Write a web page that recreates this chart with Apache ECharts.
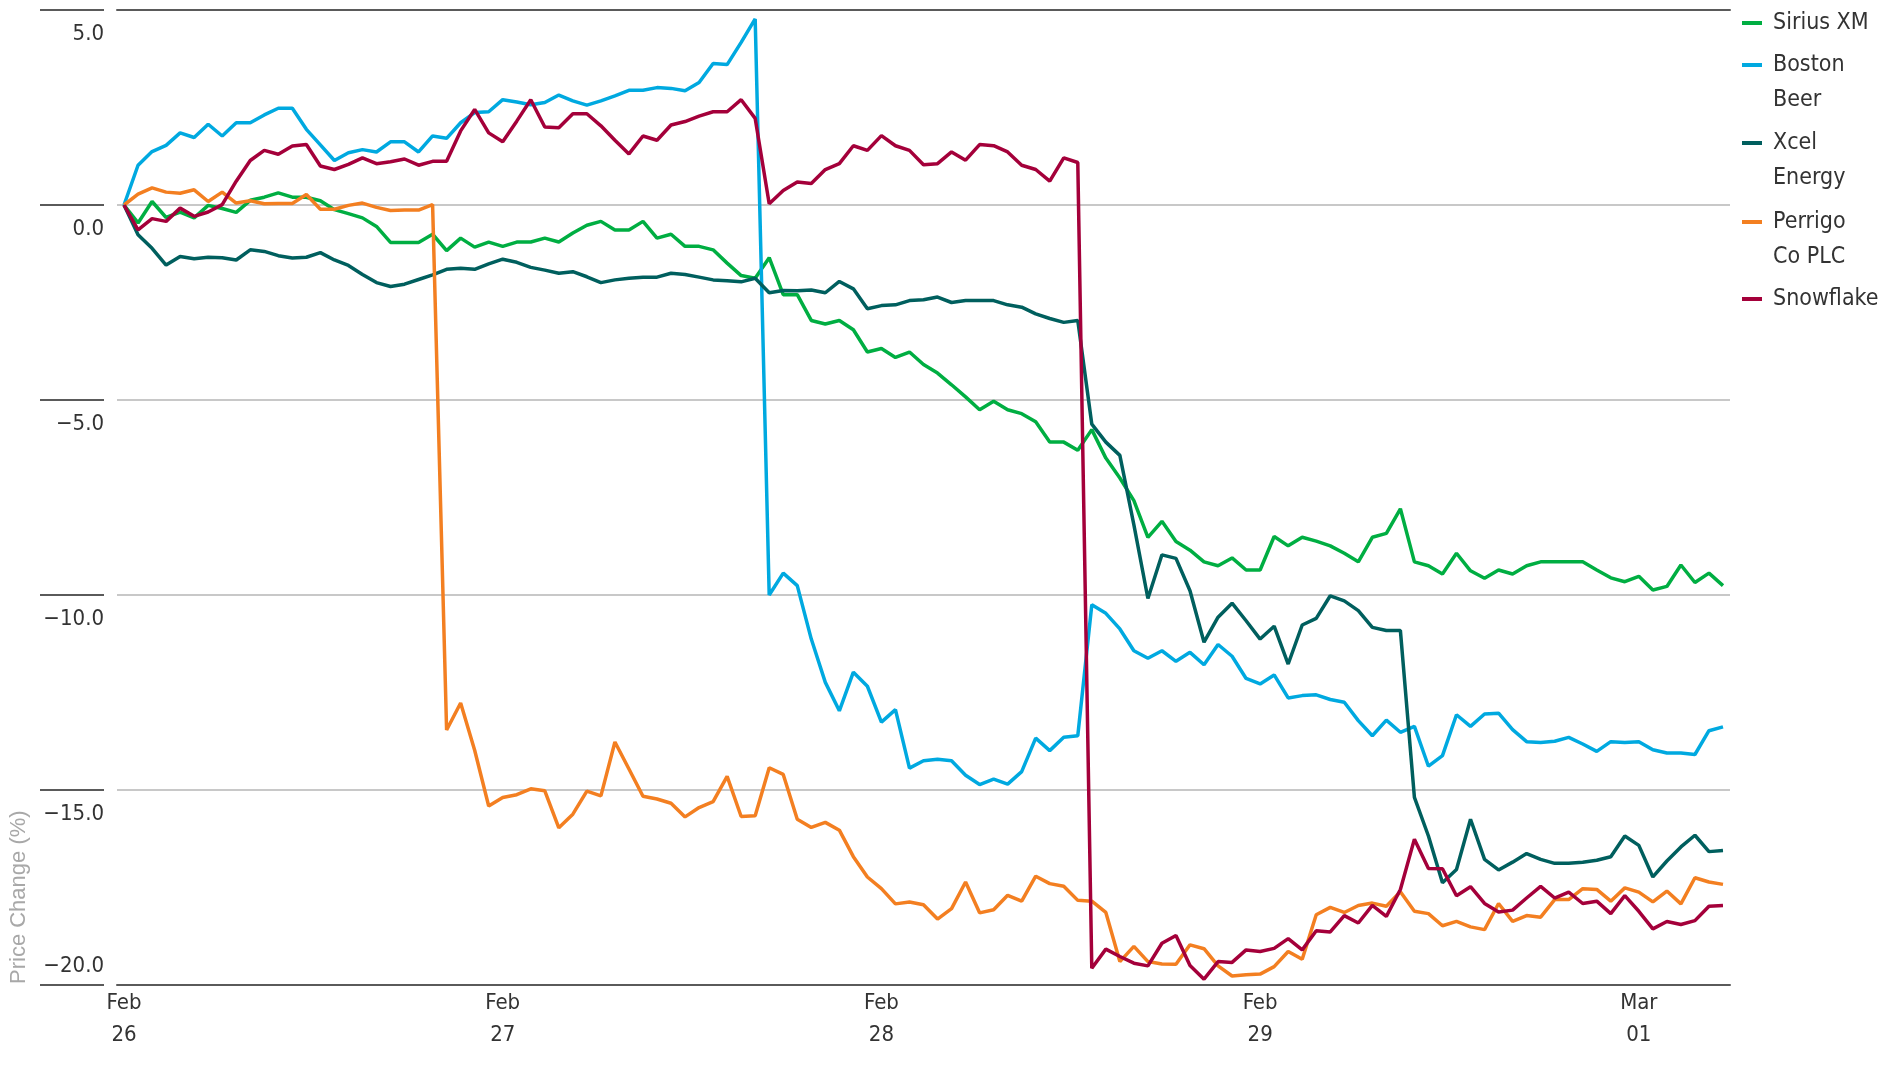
<!DOCTYPE html>
<html>
<head>
<meta charset="utf-8">
<title>Price Change</title>
<script src="https://cdn.jsdelivr.net/npm/echarts@6/dist/echarts.min.js"></script>
<style>
  html, body { margin: 0; padding: 0; background: #fff; }
  #main { width: 1896px; height: 1065px; }
</style>
</head>
<body>
<div id="main"></div>
<script>
// 数据：每天 27 个点，共 115 个点
var dayLabels = ['Feb\n26', 'Feb\n27', 'Feb\n28', 'Feb\n29', 'Mar\n01']
var pointsPerDay = 27
var pointCount = 115

var seriesNames = ['Sirius XM', 'Boston Beer', 'Xcel Energy', 'Perrigo Co PLC', 'Snowflake']
var legendLabels = ['Sirius XM', 'Boston\nBeer', 'Xcel\nEnergy', 'Perrigo\nCo PLC', 'Snowflake']

var siriusXM = [
  0, -0.46, 0.09, -0.32, -0.18, -0.33, -0.01, -0.09, -0.19, 0.12,
  0.20, 0.31, 0.20, 0.20, 0.11, -0.12, -0.22, -0.33, -0.55, -0.96,
  -0.96, -0.96, -0.75, -1.17, -0.85, -1.08, -0.95, -1.06, -0.95, -0.95,
  -0.85, -0.95, -0.72, -0.52, -0.42, -0.64, -0.64, -0.42, -0.85, -0.75,
  -1.06, -1.06, -1.15, -1.49, -1.81, -1.88, -1.35, -2.30, -2.30, -2.96,
  -3.05, -2.96, -3.20, -3.77, -3.68, -3.91, -3.77, -4.09, -4.31, -4.61,
  -4.92, -5.25, -5.03, -5.25, -5.35, -5.56, -6.08, -6.08, -6.29, -5.76,
  -6.49, -7.00, -7.58, -8.52, -8.11, -8.63, -8.85, -9.15, -9.25, -9.05,
  -9.36, -9.36, -8.50, -8.74, -8.52, -8.62, -8.74, -8.93, -9.15, -8.52,
  -8.42, -7.79, -9.15, -9.25, -9.46, -8.93, -9.38, -9.57, -9.36, -9.46,
  -9.25, -9.15, -9.15, -9.15, -9.15, -9.36, -9.56, -9.66, -9.52, -9.87,
  -9.78, -9.23, -9.68, -9.44, -9.76
]
var bostonBeer = [
  0, 1.02, 1.37, 1.53, 1.85, 1.73, 2.07, 1.77, 2.11, 2.11,
  2.31, 2.48, 2.48, 1.94, 1.54, 1.14, 1.34, 1.42, 1.36, 1.62,
  1.62, 1.36, 1.77, 1.71, 2.11, 2.37, 2.39, 2.70, 2.64, 2.57,
  2.63, 2.82, 2.67, 2.56, 2.67, 2.80, 2.94, 2.94, 3.01, 2.99,
  2.93, 3.14, 3.63, 3.60, 4.17, 4.77, -10.00, -9.44, -9.76, -11.13,
  -12.24, -12.97, -11.98, -12.34, -13.26, -12.94, -14.44, -14.25, -14.21, -14.25,
  -14.62, -14.86, -14.72, -14.85, -14.53, -13.67, -13.99, -13.65, -13.61, -10.25,
  -10.47, -10.87, -11.43, -11.62, -11.43, -11.70, -11.47, -11.79, -11.27, -11.57,
  -12.14, -12.28, -12.05, -12.64, -12.58, -12.56, -12.68, -12.75, -13.22, -13.61,
  -13.21, -13.52, -13.37, -14.39, -14.12, -13.07, -13.37, -13.05, -13.03, -13.45,
  -13.76, -13.78, -13.75, -13.65, -13.82, -14.01, -13.76, -13.78, -13.76, -13.97,
  -14.05, -14.05, -14.09, -13.48, -13.38
]
var xcelEnergy = [
  0, -0.76, -1.11, -1.54, -1.32, -1.38, -1.34, -1.35, -1.41, -1.15,
  -1.19, -1.30, -1.36, -1.34, -1.22, -1.41, -1.55, -1.78, -1.99, -2.09,
  -2.03, -1.91, -1.79, -1.65, -1.62, -1.65, -1.51, -1.39, -1.47, -1.60,
  -1.67, -1.75, -1.71, -1.84, -1.99, -1.92, -1.88, -1.85, -1.85, -1.75,
  -1.78, -1.85, -1.92, -1.94, -1.97, -1.88, -2.25, -2.19, -2.20, -2.18,
  -2.25, -1.96, -2.15, -2.66, -2.58, -2.56, -2.45, -2.43, -2.36, -2.50,
  -2.45, -2.45, -2.45, -2.56, -2.62, -2.79, -2.91, -3.01, -2.96, -5.62,
  -6.08, -6.42, -8.20, -10.09, -8.97, -9.06, -9.89, -11.21, -10.57, -10.21,
  -10.66, -11.13, -10.80, -11.77, -10.77, -10.60, -10.02, -10.15, -10.40, -10.83,
  -10.91, -10.91, -15.19, -16.18, -17.38, -17.04, -15.75, -16.78, -17.05, -16.85,
  -16.63, -16.78, -16.88, -16.88, -16.85, -16.80, -16.71, -16.18, -16.42, -17.23,
  -16.82, -16.46, -16.16, -16.58, -16.55
]
var perrigo = [
  0, 0.28, 0.44, 0.33, 0.30, 0.39, 0.09, 0.33, 0.05, 0.11,
  0.03, 0.04, 0.04, 0.27, -0.11, -0.11, -0.01, 0.05, -0.06, -0.14,
  -0.13, -0.13, 0.01, -13.46, -12.77, -13.98, -15.41, -15.19, -15.12, -14.97,
  -15.02, -15.97, -15.62, -15.03, -15.15, -13.77, -14.46, -15.16, -15.23, -15.34,
  -15.69, -15.45, -15.30, -14.65, -15.68, -15.66, -14.43, -14.60, -15.75, -15.96,
  -15.83, -16.03, -16.71, -17.23, -17.53, -17.92, -17.87, -17.94, -18.31, -18.04,
  -17.36, -18.15, -18.07, -17.70, -17.85, -17.21, -17.40, -17.47, -17.83, -17.85,
  -18.14, -19.40, -19.01, -19.40, -19.46, -19.47, -18.97, -19.07, -19.51, -19.77,
  -19.74, -19.72, -19.53, -19.14, -19.34, -18.20, -18.01, -18.14, -17.96, -17.90,
  -17.98, -17.61, -18.11, -18.17, -18.48, -18.37, -18.51, -18.58, -17.91, -18.37,
  -18.22, -18.26, -17.81, -17.81, -17.53, -17.55, -17.85, -17.51, -17.62, -17.87,
  -17.59, -17.92, -17.25, -17.36, -17.42
]
var snowflake = [
  0, -0.64, -0.35, -0.42, -0.08, -0.29, -0.18, 0.01, 0.61, 1.14,
  1.40, 1.30, 1.51, 1.55, 1.00, 0.91, 1.04, 1.21, 1.06, 1.11,
  1.18, 1.02, 1.12, 1.12, 1.90, 2.45, 1.85, 1.62, 2.15, 2.70,
  2.00, 1.98, 2.34, 2.34, 2.03, 1.66, 1.31, 1.77, 1.66, 2.05,
  2.14, 2.28, 2.39, 2.39, 2.70, 2.22, 0.03, 0.37, 0.59, 0.55,
  0.91, 1.06, 1.52, 1.40, 1.78, 1.52, 1.40, 1.03, 1.06, 1.36,
  1.15, 1.55, 1.52, 1.36, 1.02, 0.91, 0.61, 1.21, 1.09, -19.57,
  -19.08, -19.27, -19.44, -19.51, -18.93, -18.73, -19.50, -19.85, -19.40, -19.42,
  -19.10, -19.14, -19.06, -18.81, -19.10, -18.61, -18.64, -18.22, -18.41, -17.96,
  -18.24, -17.55, -16.26, -17.01, -17.02, -17.71, -17.48, -17.91, -18.13, -18.08,
  -17.77, -17.47, -17.77, -17.62, -17.91, -17.85, -18.17, -17.71, -18.11, -18.56,
  -18.37, -18.45, -18.35, -17.98, -17.96
]

var seriesData = [siriusXM, bostonBeer, xcelEnergy, perrigo, snowflake]
var colors = ['#00ae42', '#00a9e0', '#005f5e', '#f37f21', '#a4003a']

// 类目：每天第一个点显示日期，其余为空
var categories = []
for (var i = 0; i < pointCount; i++) {
  categories.push(i % pointsPerDay === 0 ? dayLabels[i / pointsPerDay] : '')
}

var narrow = "'DejaVu Sans Condensed', 'Liberation Sans', sans-serif"
var darkLine = '#5a5a5a'

var myChart = echarts.init(document.getElementById('main'))

// 图例：每项单独定位；两行文字的图标用高一点的 path，让色块对齐第一行
var tallIcon = 'path://M0,0H20V4H0ZM0,39H0.01V39.01H0Z'
var legendTops = [5.5, 47.5, 125.5, 204.5, 281.5]
var legends = seriesNames.map(function (name, k) {
  var twoLine = legendLabels[k].indexOf('\n') >= 0
  return {
    orient: 'vertical',
    left: 1742,
    top: legendTops[k],
    padding: 0,
    itemWidth: 20,
    itemHeight: twoLine ? 39 : 4,
    icon: twoLine ? tallIcon : 'rect',
    selectedMode: false,
    formatter: function (n) { return legendLabels[seriesNames.indexOf(n)] },
    textStyle: {
      fontFamily: narrow,
      fontSize: 23,
      color: '#333',
      lineHeight: 35,
      padding: [0, 0, 0, 6]
    },
    data: [name]
  }
})

var tickFont = { fontFamily: narrow, fontSize: 22, color: '#333' }

var option = {
  animation: false,
  color: colors,
  legend: legends,
  grid: {
    left: 117,
    right: 166,
    top: 10,
    bottom: 80,
    containLabel: false,
    outerBoundsMode: 'none'
  },
  xAxis: [
    {
      type: 'category',
      boundaryGap: true,
      data: categories,
      axisTick: { show: false },
      axisLine: { show: true, onZero: false, lineStyle: { color: darkLine, width: 2 } },
      axisLabel: {
        interval: 0,
        margin: 2,
        fontFamily: narrow,
        fontSize: 22,
        lineHeight: 32,
        color: '#333'
      },
      splitLine: { show: false }
    },
    {
      // 顶部深色边线
      type: 'category',
      position: 'top',
      boundaryGap: true,
      data: categories,
      axisTick: { show: false },
      axisLabel: { show: false },
      axisLine: { show: true, onZero: false, lineStyle: { color: darkLine, width: 2 } },
      splitLine: { show: false }
    }
  ],
  yAxis: {
    type: 'value',
    min: -20,
    max: 5,
    interval: 5,
    offset: 13,
    axisLine: { show: false },
    axisTick: { show: true, length: 64, lineStyle: { color: darkLine, width: 2 } },
    axisLabel: {
      margin: 0,
      verticalAlign: 'middle',
      fontFamily: narrow,
      fontSize: 22,
      color: '#333',
      // 最下面的刻度文字在线上方，其余在线下方
      formatter: function (v) {
        var s = (v < 0 ? '\u2212' : '') + Math.abs(v).toFixed(1)
        return v === -20 ? '{up|' + s + '}\n{up| }' : '{down| }\n{down|' + s + '}'
      },
      rich: {
        up: Object.assign({ lineHeight: 38 }, tickFont),
        down: Object.assign({ lineHeight: 48 }, tickFont)
      }
    },
    splitLine: {
      lineStyle: { color: '#c8c8c8', width: 2 }
    }
  },
  graphic: [
    {
      type: 'text',
      x: 19,
      y: 984,
      rotation: Math.PI / 2,
      style: {
        text: 'Price Change (%)',
        fontFamily: "'Liberation Sans', Arial, sans-serif",
        fontSize: 22,
        fill: '#a8a8a8',
        align: 'left',
        verticalAlign: 'middle'
      }
    }
  ],
  series: seriesNames.map(function (name, k) {
    return {
      name: name,
      type: 'line',
      data: seriesData[k],
      symbol: 'none',
      lineStyle: { width: 3.5, color: colors[k] },
      itemStyle: { color: colors[k] }
    }
  })
}

myChart.setOption(option)

window.addEventListener('resize', function () {
  myChart.resize()
})
</script>
</body>
</html>
